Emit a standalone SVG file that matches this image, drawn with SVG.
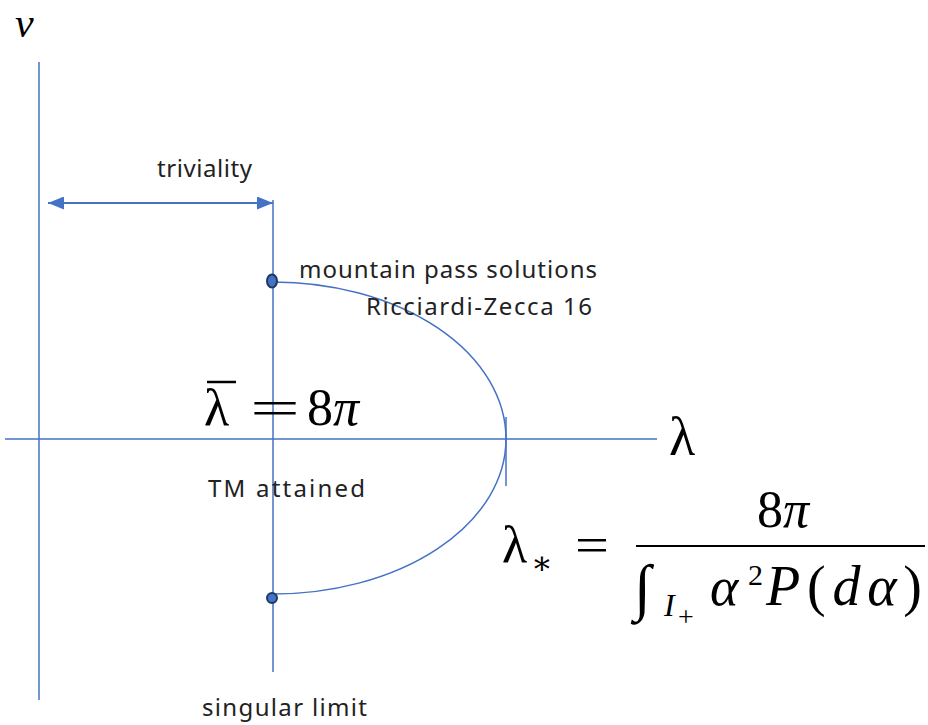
<svg xmlns="http://www.w3.org/2000/svg" width="928" height="725" viewBox="0 0 928 725">
<style>
.ax{stroke:#4472C4;stroke-width:1.5;fill:none}
.lbl{font-family:"Noto Sans","Noto Sans CJK JP",sans-serif;font-size:24px;fill:#222}
.m{font-family:"Liberation Serif","DejaVu Serif",serif;fill:#000}
.dot{fill:#4472C4;stroke:#1F3864;stroke-width:2}
</style>
<defs>
<marker id="ah" viewBox="0 0 16 13" refX="16" refY="6.5" markerWidth="16" markerHeight="13" markerUnits="userSpaceOnUse" orient="auto-start-reverse">
<path d="M0,0 L16,6.5 L0,13 z" fill="#4472C4"/>
</marker>
</defs>
<rect width="928" height="725" fill="#fff"/>
<g id="connectors">
<line class="ax" x1="39" y1="62" x2="39" y2="700"/>
<line class="ax" x1="5" y1="439" x2="657" y2="439"/>
<line class="ax" x1="273" y1="200" x2="273" y2="672"/>
<line class="ax" x1="506" y1="417" x2="506" y2="486"/>
<line class="ax" x1="48" y1="203" x2="273" y2="203" marker-start="url(#ah)" marker-end="url(#ah)" style="stroke-width:2"/>
<path class="ax" d="M273,282 A233,157 0 0 1 506,439 A233,155 0 0 1 273,594"/>
</g>
<g id="dot-top"><ellipse class="dot" cx="272" cy="281" rx="5" ry="6.5"/></g>
<g id="dot-bottom"><ellipse class="dot" cx="272" cy="598" rx="5" ry="5"/></g>
<g id="labels">
<text class="lbl" x="157" y="177" textLength="95" lengthAdjust="spacing">triviality</text>
<text class="lbl" x="299" y="278" textLength="298" lengthAdjust="spacing">mountain pass solutions</text>
<text class="lbl" x="366" y="315" textLength="226" lengthAdjust="spacing">Ricciardi-Zecca 16</text>
<text class="lbl" x="208" y="497" textLength="157" lengthAdjust="spacing">TM attained</text>
<text class="lbl" x="202" y="716" textLength="165" lengthAdjust="spacing">singular limit</text>
</g>
<g id="math">
<text class="m" x="15" y="37" font-size="42" font-style="italic">v</text>
<text class="m" x="669" y="455" font-size="54">λ</text>
<line x1="207" y1="382" x2="236" y2="382" stroke="#000" stroke-width="2.5"/>
<text class="m" x="204" y="425" font-size="52">λ</text>
<text class="m" x="250" y="425" font-size="50" textLength="50" lengthAdjust="spacingAndGlyphs">=</text>
<text class="m" x="307" y="425" font-size="52">8<tspan font-style="italic">π</tspan></text>
<text class="m" x="502" y="562" font-size="52">λ</text>
<text class="m" x="531" y="574" font-size="32">∗</text>
<text class="m" x="575" y="562" font-size="50" textLength="34" lengthAdjust="spacingAndGlyphs">=</text>
<text class="m" x="783" y="527" font-size="52" text-anchor="middle">8<tspan font-style="italic">π</tspan></text>
<line x1="636" y1="546" x2="925" y2="546" stroke="#000" stroke-width="2"/>
<text class="m" x="634" y="608" font-size="62">∫</text>
<text class="m" x="664" y="616" font-size="32" font-style="italic">I</text>
<text class="m" x="678" y="626" font-size="28">+</text>
<text class="m" x="710" y="605" font-size="54" font-style="italic">α</text>
<text class="m" x="748" y="585" font-size="30">2</text>
<text class="m" x="766" y="605" font-size="56" textLength="156" lengthAdjust="spacing"><tspan font-style="italic">P</tspan>(<tspan font-style="italic">dα</tspan>)</text>
</g>
</svg>
